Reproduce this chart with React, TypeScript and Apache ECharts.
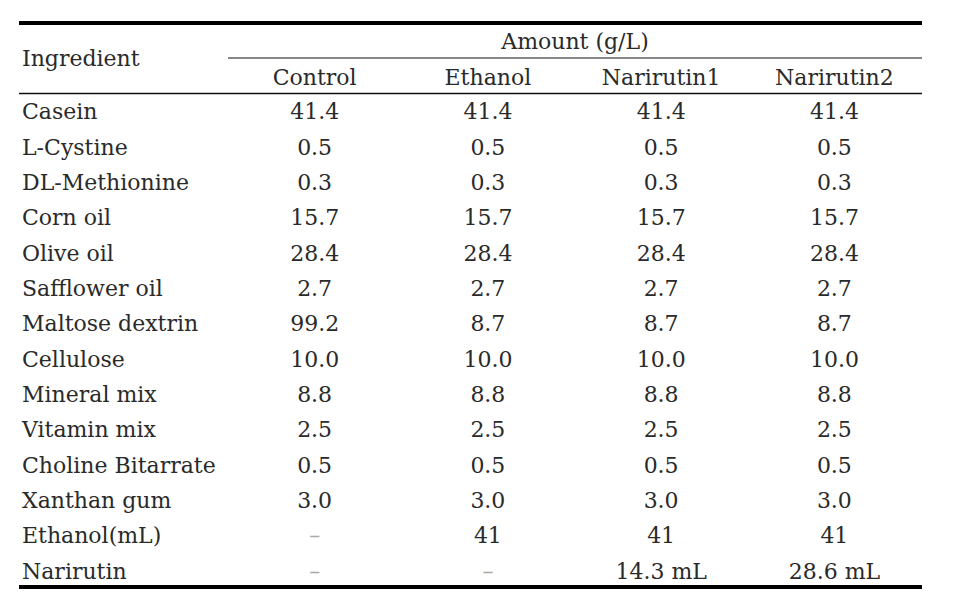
import React, { useEffect, useRef } from "react";
import * as echarts from "echarts";

const columns = ["Control", "Ethanol", "Narirutin1", "Narirutin2"];
const ingredients = [
  "Casein",
  "L-Cystine",
  "DL-Methionine",
  "Corn oil",
  "Olive oil",
  "Safflower oil",
  "Maltose dextrin",
  "Cellulose",
  "Mineral mix",
  "Vitamin mix",
  "Choline Bitarrate",
  "Xanthan gum",
  "Ethanol(mL)",
  "Narirutin",
];
const controlValues = ["41.4", "0.5", "0.3", "15.7", "28.4", "2.7", "99.2", "10.0", "8.8", "2.5", "0.5", "3.0", "–", "–"];
const ethanolValues = ["41.4", "0.5", "0.3", "15.7", "28.4", "2.7", "8.7", "10.0", "8.8", "2.5", "0.5", "3.0", "41", "–"];
const narirutin1Values = ["41.4", "0.5", "0.3", "15.7", "28.4", "2.7", "8.7", "10.0", "8.8", "2.5", "0.5", "3.0", "41", "14.3 mL"];
const narirutin2Values = ["41.4", "0.5", "0.3", "15.7", "28.4", "2.7", "8.7", "10.0", "8.8", "2.5", "0.5", "3.0", "41", "28.6 mL"];
const headerTitle = "Amount (g/L)";
const rowHeaderTitle = "Ingredient";

const FONT = "DejaVu Serif";
const SIZE = 22;
const TEXT = "#2a2a2a";

export default function App() {
  const ref = useRef<HTMLDivElement>(null);
  useEffect(() => {
    if (!ref.current) return;
    const chart = echarts.init(ref.current, null, { renderer: "svg" });
    const valueColumns = [controlValues, ethanolValues, narirutin1Values, narirutin2Values];
    const cells: { col: number; row: number; text: string }[] = [];
    valueColumns.forEach((vals, c) => {
      vals.forEach((t, r) => cells.push({ col: c, row: r, text: t }));
    });
    chart.setOption({
      animation: false,
      grid: { left: 228, right: 33, top: 94, height: 495, outerBoundsMode: "none" },
      xAxis: {
        type: "category",
        data: columns,
        position: "top",
        axisLine: { show: false },
        axisTick: { show: false },
        splitLine: { show: false },
        axisLabel: { color: TEXT, fontSize: SIZE, fontFamily: FONT, margin: 17, verticalAlign: "middle" },
      },
      yAxis: {
        type: "category",
        data: ingredients,
        inverse: true,
        axisLine: { show: false },
        axisTick: { show: false },
        splitLine: { show: false },
        axisLabel: { color: TEXT, fontSize: SIZE, fontFamily: FONT, margin: 206, align: "left" },
      },
      series: [
        {
          type: "custom",
          data: cells.map((c) => [c.col, c.row]),
          encode: { x: 0, y: 1 },
          renderItem: (params: any, api: any) => {
            const cell = cells[params.dataIndex];
            const p = api.coord([api.value(0), api.value(1)]);
            const dash = cell.text === "–";
            return {
              type: "text",
              x: p[0],
              y: p[1],
              style: {
                text: cell.text,
                fill: dash ? "#aaa" : TEXT,
                fontSize: SIZE,
                fontFamily: FONT,
                align: "center",
                verticalAlign: "middle",
              },
            };
          },
        },
      ],
      graphic: [
        { type: "line", shape: { x1: 19, y1: 23, x2: 922, y2: 23 }, style: { stroke: "#000", lineWidth: 4 } },
        { type: "line", shape: { x1: 228, y1: 58, x2: 922, y2: 58 }, style: { stroke: "#111", lineWidth: 1.2 } },
        { type: "line", shape: { x1: 19, y1: 93.5, x2: 922, y2: 93.5 }, style: { stroke: "#111", lineWidth: 1.6 } },
        { type: "line", shape: { x1: 19, y1: 587, x2: 922, y2: 587 }, style: { stroke: "#000", lineWidth: 4 } },
        {
          type: "text",
          x: 575,
          y: 41,
          style: { text: headerTitle, fill: TEXT, fontSize: SIZE, fontFamily: FONT, align: "center", verticalAlign: "middle" },
        },
        {
          type: "text",
          x: 22,
          y: 58,
          style: { text: rowHeaderTitle, fill: TEXT, fontSize: SIZE, fontFamily: FONT, align: "left", verticalAlign: "middle" },
        },
      ],
    });
    return () => chart.dispose();
  }, []);
  return <div ref={ref} style={{ position: "fixed", left: 0, top: 0, width: 954, height: 596, background: "#fff" }} />;
}
